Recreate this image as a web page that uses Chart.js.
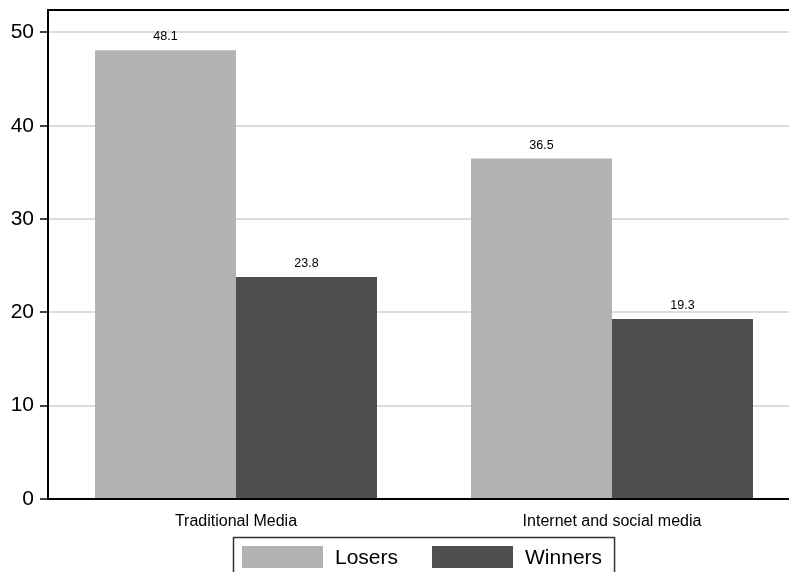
<!DOCTYPE html>
<html>
<head>
<meta charset="utf-8">
<script src="https://cdn.jsdelivr.net/npm/chart.js@4"></script>
<style>
  html, body { margin: 0; padding: 0; background: #fff; overflow: hidden; }
  #wrap { width: 789px; height: 572px; overflow: hidden; position: relative; }
  #myChart { position: absolute; left: 0; top: 0; }
</style>
</head>
<body>
<div id="wrap"><canvas id="myChart" width="800" height="572"></canvas></div>
<script>
var categories = ['Traditional Media', 'Internet and social media'];
var losers = [48.1, 36.5];
var winners = [23.8, 19.3];
var yTicks = [0, 10, 20, 30, 40, 50];

var FONT = '"Liberation Sans", Arial, sans-serif';

// value labels on top of each bar
var barLabels = {
    id: 'barLabels',
    afterDatasetsDraw: function(chart) {
        var ctx = chart.ctx;
        ctx.save();
        ctx.font = '12.5px ' + FONT;
        ctx.fillStyle = '#000';
        ctx.textAlign = 'center';
        ctx.textBaseline = 'bottom';
        chart.data.datasets.forEach(function(ds, i) {
            chart.getDatasetMeta(i).data.forEach(function(bar, j) {
                ctx.fillText(ds.data[j].toFixed(1), bar.x, bar.y - 7);
            });
        });
        ctx.restore();
    }
};

// top border + boxed legend under the axis
var frameLegend = {
    id: 'frameLegend',
    afterDraw: function(chart) {
        var ctx = chart.ctx;
        var a = chart.chartArea;
        ctx.save();
        ctx.strokeStyle = '#000';
        ctx.lineWidth = 2;
        ctx.beginPath();
        ctx.moveTo(a.left, a.top);
        ctx.lineTo(a.right, a.top);
        ctx.stroke();

        ctx.font = '21px ' + FONT;
        var sw = 81, sh = 22, gapText = 12, gapItem = 34, padL = 9, padR = 12;
        var ds = chart.data.datasets;
        var total = padL + padR;
        ds.forEach(function(d, i) {
            total += sw + gapText + ctx.measureText(d.label).width;
            if (i < ds.length - 1) total += gapItem;
        });
        var x0 = Math.round((a.left + a.right) / 2 - total / 2);
        var top = 537;
        ctx.lineWidth = 1.5;
        ctx.strokeStyle = '#333';
        ctx.strokeRect(x0 + 0.5, top + 0.5, total, 50);
        var x = x0 + padL;
        ctx.textBaseline = 'middle';
        ctx.textAlign = 'left';
        ds.forEach(function(d) {
            ctx.fillStyle = d.backgroundColor;
            ctx.fillRect(x, top + 9, sw, sh);
            x += sw + gapText;
            ctx.fillStyle = '#000';
            ctx.fillText(d.label, x, top + 9 + sh / 2 + 1);
            x += ctx.measureText(d.label).width + gapItem;
        });
        ctx.restore();
    }
};

var ctx = document.getElementById('myChart').getContext('2d');
var chart = new Chart(ctx, {
    type: 'bar',
    data: {
        labels: categories,
        datasets: [
            { label: 'Losers', data: losers, backgroundColor: '#b3b3b3' },
            { label: 'Winners', data: winners, backgroundColor: '#4f4f4f' }
        ]
    },
    options: {
        responsive: false,
        animation: false,
        maintainAspectRatio: false,
        layout: { padding: { top: 10, right: 0, left: 0, bottom: 0 } },
        datasets: {
            bar: { categoryPercentage: 0.75, barPercentage: 1.0 }
        },
        plugins: {
            legend: { display: false },
            tooltip: { enabled: false }
        },
        scales: {
            x: {
                grid: { display: false },
                border: { display: true, color: '#000', width: 2 },
                ticks: { color: '#000', font: { family: FONT, size: 16 }, padding: 5 },
                afterFit: function(scale) {
                    scale.height = 73;
                    scale.paddingLeft = 0;
                    scale.paddingRight = 0;
                }
            },
            y: {
                min: 0,
                max: 52.4,
                afterBuildTicks: function(scale) {
                    scale.ticks = yTicks.map(function(v) { return { value: v }; });
                },
                grid: {
                    color: '#dcdcdc',
                    lineWidth: 2,
                    tickLength: 8,
                    tickColor: '#000',
                    tickWidth: 1.5
                },
                border: { display: true, color: '#000', width: 2 },
                ticks: { color: '#000', font: { family: FONT, size: 21 }, padding: 6 },
                afterFit: function(scale) {
                    scale.width = 48;
                    scale.paddingTop = 0;
                    scale.paddingBottom = 0;
                }
            }
        }
    },
    plugins: [barLabels, frameLegend]
});
</script>
</body>
</html>
